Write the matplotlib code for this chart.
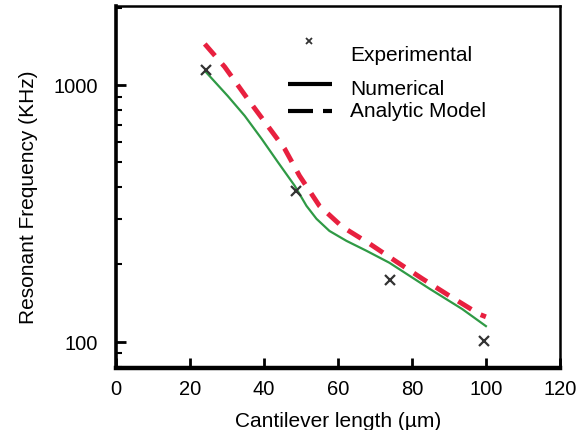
import matplotlib
matplotlib.use("Agg")
import matplotlib.pyplot as plt
from matplotlib.ticker import LogLocator, NullFormatter, FixedLocator

plt.rcParams["font.family"] = ["Liberation Sans", "DejaVu Sans"]

# values (length in um, frequency in kHz)
exp_length = [24.3, 48.7, 74.2, 99.5]
exp_freq = [1140, 388, 174, 101]

num_length = [24.3, 30.2, 34.8, 39.4, 43.7, 48.3, 51.5, 54.2, 57.7, 62.3,
              67.7, 73.9, 84.7, 93.6, 100]
num_freq = [1123, 906, 758, 616, 502, 405, 338, 301, 270, 247,
            226, 203, 161, 134, 115]

ana_length = [24.0, 29.4, 35.6, 41.0, 45.6, 49.6, 55.0, 61.2, 68.5, 75.8,
              82.8, 90.1, 98.2, 100]
ana_freq = [1444, 1175, 882, 693, 564, 443, 338, 280, 241, 205,
            176, 151, 128, 125]

x_ticks = [0, 20, 40, 60, 80, 100, 120]
y_ticks = [100, 1000]
legend_labels = ["Experimental", "Numerical", "Analytic Model"]

fig = plt.figure(figsize=(5.82, 4.31), dpi=100)
ax = fig.add_axes([0.1993, 0.1439, 0.7627, 0.8399])

ax.plot(num_length, num_freq, color="#2f9a45", lw=1.6)
ax.plot(ana_length, ana_freq, color="#e8203f", lw=3.5, dashes=(3.2, 2.2))
ax.plot(exp_length, exp_freq, ls="none", marker="x", ms=7, mew=1.6, color="#333333")

ax.set_yscale("log")
ax.set_xlim(0, 120)
ax.set_ylim(79, 2030)
ax.xaxis.set_major_locator(FixedLocator(x_ticks))
ax.yaxis.set_major_locator(FixedLocator(y_ticks))
ax.set_yticklabels([str(v) for v in y_ticks])
ax.yaxis.set_minor_locator(LogLocator(base=10, subs=range(2, 10)))
ax.yaxis.set_minor_formatter(NullFormatter())

ax.tick_params(axis="both", which="major", direction="in", length=7, width=2,
               labelsize=14.5, top=False, right=False)
ax.tick_params(axis="x", pad=8)
ax.tick_params(axis="y", pad=13)
ax.tick_params(axis="y", which="minor", direction="in", length=4, width=1.5, right=False)

for side, w in [("left", 2.6), ("bottom", 3.2), ("top", 1.8), ("right", 1.8)]:
    ax.spines[side].set_linewidth(w)

ax.set_xlabel("Cantilever length (\u00b5m)", fontsize=15, labelpad=9)
ax.set_ylabel("Resonant Frequency (KHz)", fontsize=15)
ax.yaxis.set_label_coords(-0.176, 0.475)

# hand-placed legend, spacing as in the original
tr = ax.transAxes
ax.plot([0.435], [0.903], transform=tr, ls="none", marker="x", ms=5, mew=1.3,
        color="#333333")
ax.plot([0.387, 0.486], [0.785, 0.785], transform=tr, color="black", lw=3,
        solid_capstyle="butt")
ax.plot([0.387, 0.486], [0.710, 0.710], transform=tr, color="black", lw=3,
        dashes=(6, 2.4), dash_capstyle="butt")
for label, ypos in zip(legend_labels, [0.866, 0.773, 0.712]):
    ax.text(0.527, ypos, label, transform=tr, fontsize=15, va="center", ha="left")

fig.savefig("out.png", dpi=100)
